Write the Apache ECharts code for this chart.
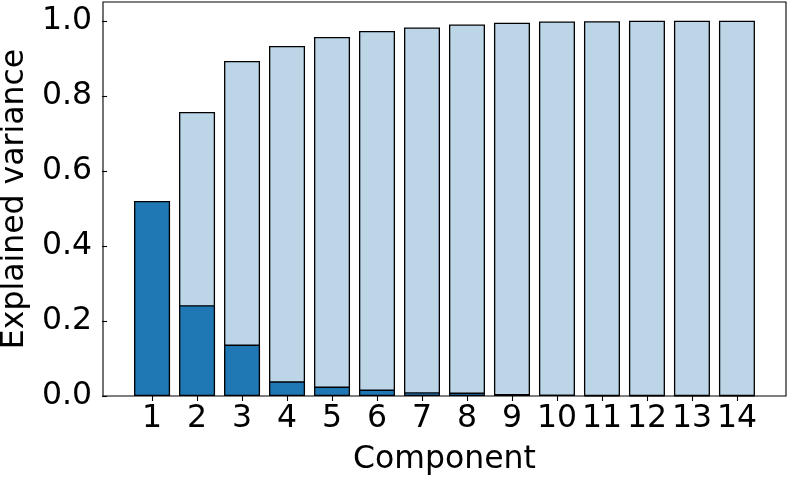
<!DOCTYPE html>
<html>
<head>
<meta charset="utf-8">
<script src="https://cdn.jsdelivr.net/npm/echarts@6/dist/echarts.min.js"></script>
<style>html,body{margin:0;padding:0;background:#fff;}#c{width:789px;height:479px;}</style>
</head>
<body>
<div id="c"></div>
<script>
const components = [1,2,3,4,5,6,7,8,9,10,11,12,13,14];
const cumulative = [0.52,0.757,0.893,0.933,0.957,0.973,0.982,0.990,0.995,0.998,0.999,1.0,1.0,1.0];
const individual = [0.52,0.242,0.137,0.039,0.025,0.017,0.010,0.009,0.005,0.003,0.001,0.0005,0.0003,0.0002];
const yTicks = [0,0.2,0.4,0.6,0.8,1.0];

const chart = echarts.init(document.getElementById('c'), null, {renderer:'canvas'});
const font = 'DejaVu Sans';
const fs = 31.5;
chart.setOption({
  animation:false,
  grid:{left:103, top:2, right:3, bottom:83, outerBoundsMode:'none', containLabel:false, show:true, borderColor:'#000', borderWidth:1.1, backgroundColor:'transparent'},
  xAxis:{
    type:'value', min:-0.09, max:15.09,
    name:'Component', nameLocation:'middle', nameGap:48,
    nameTextStyle:{fontFamily:font, fontSize:fs, color:'#000'},
    axisLine:{show:false},
    splitLine:{show:false},
    axisTick:{show:true, length:5, inside:false, customValues:components, lineStyle:{color:'#000', width:1.1}},
    axisLabel:{customValues:components, fontFamily:font, fontSize:fs, color:'#000', margin:7, formatter:v=>String(v)}
  },
  yAxis:{
    type:'value', min:0, max:1.05,
    name:'Explained variance', nameLocation:'middle', nameGap:70,
    nameTextStyle:{fontFamily:font, fontSize:fs, color:'#000'},
    axisLine:{show:false},
    splitLine:{show:false},
    axisTick:{show:true, length:5, customValues:yTicks, lineStyle:{color:'#000', width:1.1}},
    axisLabel:{customValues:yTicks, fontFamily:font, fontSize:fs, color:'#000', margin:11, formatter:v=>v.toFixed(1)}
  },
  series:[
    {type:'bar', barWidth:36, barGap:'-100%', data:components.map((c,i)=>[c,cumulative[i]]),
     itemStyle:{color:'#bcd6e8', borderColor:'#000', borderWidth:1.3}},
    {type:'bar', barWidth:36, barGap:'-100%', data:components.map((c,i)=>[c,individual[i]]),
     itemStyle:{color:'#1f77b4', borderColor:'#000', borderWidth:1.3}}
  ]
});
</script>
</body>
</html>
